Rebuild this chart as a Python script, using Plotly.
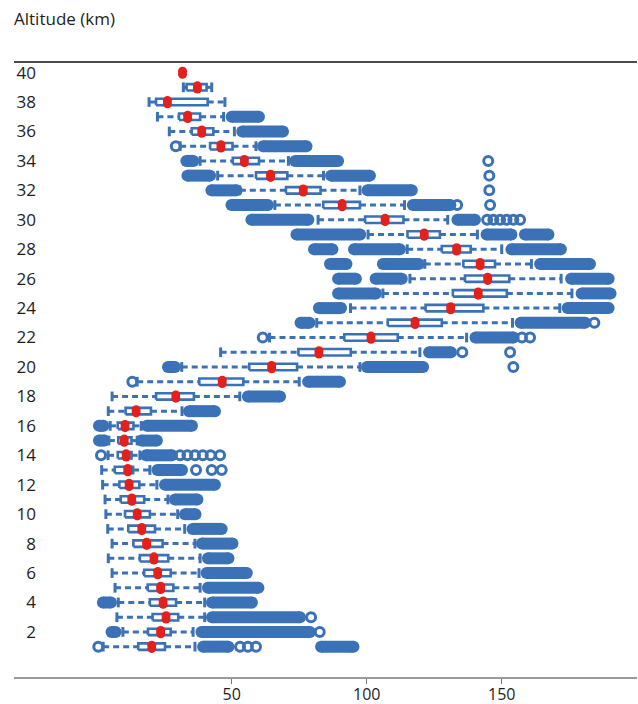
import plotly.graph_objects as go

# ---- data (values in x units, one entry per altitude 1..40 km) ----
altitudes = list(range(1, 41))
whisker_low = [2.4, 9.7, 7.5, 8.0, 6.8, 5.7, 4.3, 5.7, 4.1, 3.4,
               3.1, 2.2, 1.85, 4.2, 4.5, 5.0, 4.3, 5.7, 15.0, 31.5,
               45.9, 64.0, 81.5, 94.0, 106.0, 116.0, 121.5, 115.0, 100.5, 82.0,
               66.0, 53.0, 44.8, 38.3, 30.9, 26.9, 22.5, 19.4, 32.1, 31.8]
q1 = [15.4, 19.0, 20.7, 19.7, 18.9, 17.6, 16.0, 13.6, 11.7, 10.5,
      8.9, 8.4, 6.7, 7.8, 8.0, 7.8, 10.7, 22.0, 38.0, 56.5,
      74.7, 91.7, 107.8, 121.8, 131.9, 136.4, 135.8, 127.8, 115.1, 99.4,
      83.9, 70.1, 59.0, 50.4, 42.0, 35.2, 30.5, 22.0, 33.3, 31.8]
q3 = [25.3, 27.4, 30.2, 29.4, 28.4, 27.4, 26.5, 24.4, 21.6, 19.7,
      17.6, 15.8, 13.5, 12.9, 12.9, 13.6, 20.1, 36.0, 54.3, 74.2,
      94.1, 111.5, 127.8, 143.2, 151.9, 152.8, 147.5, 138.5, 127.1, 113.6,
      97.5, 82.9, 70.6, 60.1, 50.3, 43.2, 38.3, 41.1, 40.7, 31.8]
whisker_high = [36.4, 35.7, 40.0, 40.0, 38.3, 37.9, 38.3, 36.4, 32.6, 30.0,
                26.4, 22.3, 19.7, 16.0, 15.0, 16.5, 31.6, 53.0, 75.0, 97.5,
                119.7, 137.0, 154.0, 171.5, 176.0, 172.0, 161.0, 150.0, 141.0, 130.0,
                114.0, 97.5, 84.0, 71.0, 59.0, 51.0, 47.0, 47.5, 42.6, 31.8]
means = [20.4, 23.7, 25.7, 24.6, 23.7, 22.6, 21.2, 18.5, 16.7, 15.0,
         13.0, 12.0, 11.5, 10.9, 10.2, 10.5, 14.6, 29.3, 46.5, 64.8,
         82.3, 101.6, 117.9, 131.1, 141.3, 144.8, 142.0, 133.3, 121.3, 106.8,
         90.9, 76.5, 64.4, 54.7, 46.0, 38.9, 33.7, 26.2, 37.3, 31.8]

# dense runs of overlapping outliers: (altitude, first value, last value)
outlier_runs = [
    (1, 39.4, 48.8), (1, 83.1, 95.1),
    (2, 5.5, 7.0), (2, 38.8, 79.0),
    (3, 42.7, 75.3),
    (4, 2.3, 5.3), (4, 42.7, 57.5),
    (5, 41.2, 59.9),
    (6, 40.7, 55.6),
    (7, 41.2, 48.8),
    (8, 39.0, 50.3),
    (9, 35.5, 46.3),
    (10, 32.7, 36.6),
    (11, 29.0, 37.3),
    (12, 25.3, 43.8),
    (13, 22.5, 31.6),
    (14, 18.3, 27.9),
    (15, 0.85, 2.9), (15, 16.6, 22.3),
    (16, 0.85, 2.5), (16, 18.6, 35.3),
    (17, 34.2, 43.8),
    (18, 56.0, 67.9),
    (19, 78.3, 90.1),
    (20, 26.4, 29.0), (20, 100.1, 120.9),
    (21, 123.1, 131.2),
    (22, 140.3, 154.4),
    (23, 75.5, 78.8), (23, 157.0, 180.9),
    (24, 82.3, 90.5), (24, 174.4, 189.6),
    (25, 89.4, 103.4), (25, 179.6, 190.3),
    (26, 89.4, 96.0), (26, 103.3, 113.0), (26, 175.7, 189.6),
    (27, 86.4, 92.5), (27, 106.0, 119.2), (27, 164.2, 182.7),
    (28, 80.5, 87.3), (28, 95.3, 112.3), (28, 153.6, 171.9),
    (29, 74.0, 97.6), (29, 144.4, 153.6), (29, 158.6, 167.3),
    (30, 57.3, 78.4), (30, 133.6, 140.1),
    (31, 49.9, 63.4), (31, 117.1, 131.0),
    (32, 42.5, 51.8), (32, 100.3, 116.7),
    (33, 33.6, 42.0), (33, 86.8, 101.2),
    (34, 33.2, 35.8), (34, 73.5, 89.4),
    (35, 61.6, 77.7),
    (36, 53.9, 69.0),
    (37, 50.0, 60.1),
]

# isolated outliers: (altitude, value)
outlier_points = [
    (1, 0.6), (1, 53.1), (1, 56.0), (1, 59.0),
    (2, 82.6),
    (3, 79.4),
    (13, 36.8), (13, 42.6), (13, 46.3),
    (14, 1.6), (14, 30.9), (14, 33.6), (14, 36.4), (14, 39.3), (14, 42.2), (14, 45.7),
    (19, 13.2),
    (20, 154.3),
    (21, 135.4), (21, 153.1),
    (22, 61.5), (22, 157.5), (22, 160.5),
    (23, 184.3),
    (30, 144.6), (30, 146.9), (30, 149.4), (30, 151.8), (30, 154.3), (30, 156.8),
    (31, 133.5), (31, 145.7),
    (32, 145.4),
    (33, 145.4),
    (34, 145.0),
    (35, 29.3),
]

y_ticks = list(range(2, 41, 2))
x_ticks = [50, 100, 150]

BLUE = "#3b71b7"
RED = "#e4201d"
BOX_H = 0.22
CAP_H = 0.33

# ---- build traces ----
wx, wy, cx, cy, bx, by = [], [], [], [], [], []
for a, lo, b1, b3, hi in zip(altitudes, whisker_low, q1, q3, whisker_high):
    wx += [lo, b1, None, b3, hi, None]
    wy += [a, a, None, a, a, None]
    cx += [lo, lo, None, hi, hi, None]
    cy += [a - CAP_H, a + CAP_H, None, a - CAP_H, a + CAP_H, None]
    bx += [b1, b3, b3, b1, b1, None]
    by += [a - BOX_H, a - BOX_H, a + BOX_H, a + BOX_H, a - BOX_H, None]

rx, ry = [], []
for a, s, e in outlier_runs:
    rx += [s, e, None]
    ry += [a, a, None]

fig = go.Figure()
fig.add_trace(go.Scatter(x=wx, y=wy, mode="lines",
                         line=dict(color=BLUE, width=3, dash="6px,4px"),
                         hoverinfo="skip"))
fig.add_trace(go.Scatter(x=cx, y=cy, mode="lines",
                         line=dict(color=BLUE, width=3), hoverinfo="skip"))
fig.add_trace(go.Scatter(x=bx, y=by, mode="lines",
                         line=dict(color=BLUE, width=2.6), hoverinfo="skip"))
fig.add_trace(go.Scatter(x=rx, y=ry, mode="lines+markers",
                         line=dict(color=BLUE, width=12),
                         marker=dict(color=BLUE, size=12, line=dict(width=0)),
                         hoverinfo="skip"))
fig.add_trace(go.Scatter(x=[v for _, v in outlier_points],
                         y=[a for a, _ in outlier_points], mode="markers",
                         marker=dict(symbol="circle-open", color=BLUE, size=9,
                                     line=dict(color=BLUE, width=3)),
                         hoverinfo="skip"))
# mean markers: slightly elongated red drops
fig.add_trace(go.Scatter(x=means + means,
                         y=[a + 0.1 for a in altitudes] + [a - 0.12 for a in altitudes],
                         mode="markers",
                         marker=dict(symbol="circle", color=RED, size=9, line=dict(width=0)),
                         hoverinfo="skip"))

left_px, plot_w = 37, 600
x_ext = (14 - left_px) / plot_w

fig.update_layout(
    width=638, height=704,
    margin=dict(l=left_px, r=1, t=62, b=26),
    paper_bgcolor="white", plot_bgcolor="white",
    showlegend=False,
    font=dict(family="Open Sans, Noto Sans, sans-serif", size=17, color="#1e1e1e"),
    xaxis=dict(range=[-22.1, 200.1], tickvals=x_ticks, ticktext=[str(t) for t in x_ticks],
               showgrid=False, zeroline=False, showline=False, automargin=False,
               ticks="outside", ticklen=5, tickwidth=1, tickcolor="#777777",
               ticklabelstandoff=-3, tickfont=dict(size=16)),
    yaxis=dict(range=[-1.13, 40.72], tickvals=y_ticks, ticktext=[str(t) for t in y_ticks],
               showgrid=False, zeroline=False, showline=False, ticks="", automargin=False,
               tickfont=dict(size=17)),
    shapes=[
        dict(type="line", xref="paper", yref="paper", x0=x_ext, x1=1, y0=1, y1=1,
             line=dict(color="#111111", width=1.5)),
        dict(type="line", xref="paper", yref="paper", x0=x_ext, x1=1, y0=0, y1=0,
             line=dict(color="#777777", width=1.5)),
    ],
    annotations=[
        dict(text="Altitude (km)", xref="paper", yref="paper",
             x=x_ext, y=1 + (62 - 18) / 616, xanchor="left", yanchor="middle",
             xshift=-2, showarrow=False, font=dict(size=17, color="#1e1e1e")),
    ],
)

fig.write_html("out.html", config={"displayModeBar": False},
               post_script="document.body.style.margin='0px';document.body.style.padding='0px';")
